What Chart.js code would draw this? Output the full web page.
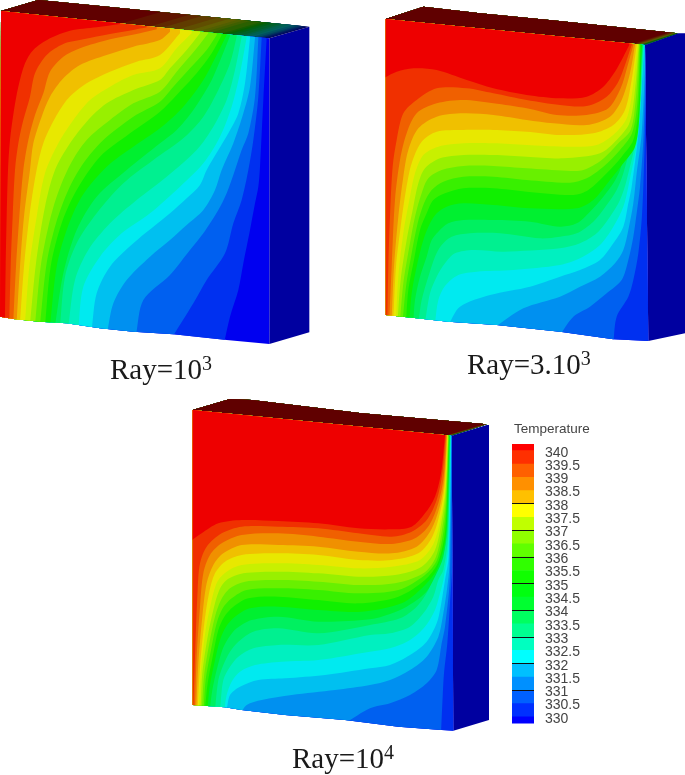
<!DOCTYPE html>
<html><head><meta charset="utf-8">
<style>html,body{margin:0;padding:0;background:#fff;width:685px;height:775px;overflow:hidden}
canvas{position:absolute;display:block;filter:blur(0.4px)}</style>
<script src="https://cdn.jsdelivr.net/npm/chart.js@4"></script></head>
<body>
<canvas id="main" width="685" height="775" style="left:0;top:0"></canvas>
<canvas id="bar" width="90" height="328" style="left:512px;top:415px"></canvas>
<script>
// band colours, coldest to hottest
const faceColors=['#0000f0','#0030f0','#0060f0','#0090f0','#00c0f0','#00eaf0','#00f0c0','#00f090','#00f060','#00f030','#10f000','#38f000','#68f000','#98f000','#c8f000','#e8e800','#f0c000','#f09000','#f06000','#f03000','#ee0000'];
const topColors=['#000060','#001460','#002860','#003c60','#005060','#006060','#006050','#00603c','#006028','#006014','#086000','#166000','#2a6000','#3e6000','#506000','#606000','#604e00','#603c00','#602800','#601400','#600000'];
const sideColor='#0000a0';

// panel 1 (Ray=1e3) outlines, in reference crop units (3 per pixel)
const p1Front=[[3,33],[240,58],[700,105],[808,115],[808,1032],[680,1020],[520,1003],[400,995],[300,985],[200,970],[120,965],[40,957],[0,950]];
const p1Top=[[3,33],[115,0],[300,18],[928,80],[808,115]];
const p1Side=[[808,115],[928,80],[928,997],[808,1032]];
const p1Slant=[112,-33];
// isotherms, coldest first; each starts on the top edge and ends at the left or bottom edge
const p1Iso=[
[[800,115],[790,300],[780,500],[775,560],[765,610],[750,690],[730,790],[715,870],[690,950],[672,1030]],
[[785,115],[775,290],[760,420],[745,510],[725,600],[700,670],[675,760],[620,840],[580,910],[515,1015]],
[[775,115],[765,290],[745,400],[725,450],[705,510],[680,580],[655,630],[610,700],[570,750],[510,825],[430,900],[408,1005]],
[[765,114],[750,260],[730,340],[700,430],[665,510],[645,570],[610,630],[560,675],[510,720],[450,770],[380,840],[340,910],[322,995]],
[[750,113],[735,250],[715,340],[685,400],[620,510],[600,555],[560,595],[510,640],[400,730],[330,800],[290,880],[275,990]],
[[740,112],[720,220],[695,320],[660,410],[610,490],[540,560],[450,640],[365,700],[300,770],[250,860],[235,985]],
[[725,110],[705,210],[680,300],[640,380],[590,450],[500,530],[410,600],[330,670],[265,750],[225,840],[205,980]],
[[710,110],[690,190],[655,270],[610,350],[555,410],[460,480],[370,550],[290,640],[230,730],[195,830],[180,978]],
[[690,108],[665,170],[630,250],[580,330],[530,390],[480,430],[380,510],[290,590],[230,690],[190,820],[165,978]],
[[680,105],[650,165],[610,240],[550,320],[480,385],[400,440],[320,500],[245,590],[200,690],[170,800],[150,978]],
[[665,105],[635,160],[590,220],[530,285],[480,335],[390,400],[300,470],[230,570],[185,670],[152,800],[135,978]],
[[650,105],[620,150],[570,205],[520,260],[480,305],[400,350],[310,420],[250,490],[205,570],[168,670],[140,790],[120,975]],
[[625,100],[590,145],[530,215],[480,275],[400,310],[330,360],[260,420],[210,495],[170,590],[145,680],[122,800],[105,975]],
[[600,100],[560,150],[510,205],[480,240],[400,270],[320,310],[260,365],[210,430],[165,510],[135,620],[108,790],[90,973]],
[[575,100],[530,145],[480,205],[400,225],[330,260],[270,300],[220,360],[175,430],[135,520],[110,650],[88,800],[75,970]],
[[540,100],[480,165],[410,185],[330,215],[260,250],[205,295],[165,355],[130,430],[108,520],[88,650],[72,800],[60,968]],
[[510,95],[480,120],[400,140],[320,165],[240,195],[190,235],[150,290],[125,350],[100,430],[90,510],[72,650],[60,800],[50,965]],
[[470,88],[420,100],[330,118],[240,145],[190,170],[150,215],[130,280],[105,345],[85,420],[70,510],[58,650],[48,800],[40,962]],
[[440,82],[400,90],[330,102],[250,118],[190,132],[140,165],[105,220],[90,290],[70,360],[55,430],[45,510],[38,650],[32,800],[28,960]],
[[360,72],[290,82],[210,92],[150,115],[100,150],[75,190],[55,260],[42,330],[30,420],[24,510],[20,650],[17,800],[15,960]]
];

// panel 2 (Ray=3.1e3)
const p2Front=[[17,57],[795,135],[805,1023],[700,1018],[540,995],[350,975],[205,965],[110,955],[17,945]];
const p2Top=[[17,57],[130,20],[300,40],[530,62],[893,100],[795,135]];
const p2Side=[[795,135],[893,100],[915,100],[915,1000],[805,1023]];
const p2Slant=[112,-36];
const p2Iso=[
[[830,100],[830,1100]],
[[803,137],[795,400],[790,560],[785,660],[775,760],[760,840],[745,890],[710,950],[700,1030]],
[[800,137],[790,420],[780,560],[770,640],[760,710],[745,780],[725,840],[680,880],[630,920],[580,950],[540,1005]],
[[798,137],[785,400],[770,520],[760,610],[745,690],[730,750],[705,790],[660,830],[600,860],[540,890],[430,925],[340,985]],
[[793,135],[775,400],[755,560],[745,610],[730,680],[700,730],[660,780],[600,810],[540,830],[450,860],[330,885],[240,920],[205,975]],
[[792,135],[775,400],[745,560],[730,620],[700,680],[660,735],[600,775],[540,795],[400,810],[290,815],[235,825],[195,858],[175,900],[165,970]],
[[790,135],[775,380],[740,540],[720,600],[690,650],[650,700],[600,730],[540,745],[370,755],[280,750],[225,760],[195,790],[170,830],[150,880],[135,968]],
[[789,135],[770,360],[730,520],[710,570],[680,615],[640,665],[590,700],[540,710],[480,715],[360,700],[270,700],[215,710],[185,735],[165,770],[145,830],[125,900],[115,967]],
[[787,135],[765,350],[720,510],[700,550],[670,590],[630,635],[590,670],[540,680],[450,665],[340,660],[250,660],[205,670],[175,695],[155,720],[140,770],[120,830],[105,900],[100,965]],
[[785,135],[778,350],[765,440],[730,490],[690,540],[640,600],[590,625],[450,625],[340,615],[250,610],[200,620],[170,640],[150,670],[130,720],[110,800],[95,880],[88,964]],
[[782,135],[775,330],[760,420],[725,470],[680,520],[625,570],[580,585],[440,575],[340,565],[250,565],[195,580],[160,600],[140,640],[120,690],[102,780],[85,870],[78,963]],
[[780,135],[772,310],[756,400],[720,450],[670,500],[620,535],[570,548],[440,540],[340,530],[250,530],[190,545],[155,570],[132,610],[113,670],[95,760],[78,860],[68,962]],
[[778,135],[768,290],[752,390],[715,430],[665,480],[610,510],[560,512],[440,505],[340,498],[250,498],[185,510],[145,535],[125,580],[105,650],[88,740],[70,850],[60,962]],
[[776,135],[765,270],[748,370],[710,420],[660,460],[550,475],[440,470],[340,465],[250,465],[180,475],[135,505],[115,550],[98,630],[80,720],[62,840],[53,960]],
[[773,135],[760,250],[742,350],[705,400],[650,435],[550,440],[440,435],[340,430],[250,430],[175,440],[130,465],[105,520],[88,600],[70,700],[55,830],[48,960]],
[[770,135],[755,240],[735,330],[700,375],[640,400],[540,405],[440,395],[340,390],[250,390],[170,395],[125,425],[95,490],[78,570],[62,680],[48,800],[40,960]],
[[765,135],[750,220],[725,300],[690,350],[620,375],[520,370],[440,360],[340,345],[250,340],[170,350],[115,385],[85,450],[70,530],[55,650],[42,800],[35,960]],
[[760,135],[742,200],[722,265],[685,325],[620,345],[530,345],[440,325],[340,310],[250,300],[170,310],[110,340],[80,400],[60,480],[45,600],[35,800],[28,958]],
[[755,135],[735,195],[715,245],[680,290],[620,318],[540,315],[440,300],[340,280],[260,265],[170,265],[110,300],[70,340],[50,420],[38,500],[30,650],[25,800],[22,955]],
[[748,135],[730,170],[705,215],[670,260],[620,290],[540,295],[440,285],[340,265],[260,240],[170,210],[100,205],[50,215],[10,235]]
];

// panel 3 (Ray=1e4)
const p3Front=[[23,60],[800,137],[805,1022],[770,1020],[640,1010],[480,990],[300,975],[170,960],[120,952],[23,945]];
const p3Top=[[23,60],[135,27],[200,30],[350,48],[530,70],[905,103],[800,137]];
const p3Side=[[800,137],[905,105],[912,105],[912,990],[805,1022]];
const p3Slant=[112,-33];
const p3Iso=[
[[830,100],[830,1100]],
[[803,137],[803,500],[795,640],[787,760],[777,850],[773,920],[768,1030]],
[[800,137],[795,560],[780,710],[770,760],[755,840],[725,880],[675,915],[615,940],[555,955],[480,1000]],
[[799,137],[793,530],[787,590],[775,670],[760,740],[725,800],[675,840],[615,870],[555,885],[450,900],[320,915],[230,930],[185,945],[165,972]],
[[798,137],[791,500],[780,570],[767,650],[755,700],[725,755],[675,795],[615,825],[555,835],[420,855],[300,865],[220,870],[165,890],[135,915],[125,961]],
[[797,137],[790,470],[775,570],[765,610],[750,660],[720,710],[675,750],[615,775],[555,785],[400,810],[290,815],[210,825],[165,845],[140,875],[125,915],[118,961]],
[[796,137],[789,440],[775,540],[760,570],[745,620],[715,670],[675,710],[615,730],[555,735],[400,765],[280,765],[205,775],[160,800],[135,830],[115,870],[105,960]],
[[795,137],[788,420],[770,510],[750,540],[730,600],[695,650],[645,685],[555,705],[400,730],[280,715],[205,725],[160,755],[135,785],[115,825],[100,870],[90,960]],
[[794,137],[787,400],[775,500],[750,560],[720,610],[665,650],[615,672],[555,688],[400,695],[280,680],[200,690],[155,715],[130,745],[112,780],[95,840],[82,900],[74,960]],
[[793,137],[786,380],[779,460],[755,540],[715,590],[650,640],[530,665],[400,660],[280,650],[195,655],[150,680],[123,710],[105,750],[88,820],[74,890],[67,959]],
[[792,137],[785,360],[778,440],[758,520],[720,570],[640,620],[520,640],[400,630],[280,620],[190,625],[145,650],[118,680],[100,720],[83,800],[68,880],[60,959]],
[[791,137],[784,340],[776,420],[756,510],[720,555],[640,600],[520,610],[400,600],[280,595],[185,600],[140,625],[113,655],[95,700],[78,780],[62,870],[56,958]],
[[790,137],[783,320],[774,400],[753,500],[715,550],[630,580],[520,585],[400,575],[280,570],[180,575],[135,595],[108,630],[90,680],[73,760],[57,860],[51,958]],
[[789,137],[782,300],[772,380],[750,480],[710,530],[630,555],[520,560],[400,550],[280,545],[175,550],[125,570],[103,600],[85,660],[68,740],[52,850],[47,957]],
[[788,137],[781,290],[770,370],[746,460],[705,510],[620,530],[520,535],[400,525],[280,520],[170,525],[125,545],[97,575],[78,640],[62,720],[48,840],[42,957]],
[[787,137],[780,280],[767,360],[742,440],[700,490],[620,510],[520,510],[400,495],[280,490],[170,495],[120,515],[90,550],[72,610],[58,700],[45,830],[38,956]],
[[786,137],[778,270],[764,350],[738,420],[695,470],[620,490],[520,485],[400,470],[280,465],[170,465],[115,490],[85,525],[65,580],[52,680],[40,820],[34,956]],
[[784,137],[776,260],[760,340],[733,405],[690,445],[620,462],[520,455],[400,440],[280,430],[170,435],[110,460],[75,495],[55,550],[45,650],[35,800],[30,955]],
[[782,137],[772,250],[755,330],[725,390],[680,425],[620,440],[520,430],[400,415],[280,410],[170,410],[110,430],[65,470],[45,520],[38,600],[30,800],[25,955]],
[[780,137],[768,250],[750,320],[720,370],[680,410],[620,418],[520,415],[400,400],[280,393],[170,390],[100,400],[50,430],[15,455]]
];

// colour bar
const barTicks=[340,339.5,339,338.5,338,337.5,337,336.5,336,335.5,335,334.5,334,333.5,333,332.5,332,331.5,331,330.5,330];
const barEdges=[329.75,330,330.5,331,331.5,332,332.5,333,333.5,334,334.5,335,335.5,336,336.5,337,337.5,338,338.5,339,339.5,340,340.25];
const barColors=['#0000ff','#0030ff','#0060ff','#0090ff','#00c0ff','#00ffff','#00ffc0','#00ff90','#00ff60','#00ff30','#00ff10','#10ff00','#30ff00','#60ff00','#90ff00','#c0ff00','#ffff00','#ffc000','#ff9000','#ff6000','#ff3000','#ff0000'];
const barLines=[338,337,336,335,334,333,332,331];

// text
const captionBase=['Ray=10','Ray=3.10','Ray=10'];
const captionPower=['3','3','4'];
const captionAt=[[110,379],[467,374],[292,768]];
const barTitle='Temperature';
const barTitleAt=[514,433];

const panels=[
 {org:[0,0],front:p1Front,top:p1Top,side:p1Side,slant:p1Slant,iso:p1Iso},
 {org:[380,0],front:p2Front,top:p2Top,side:p2Side,slant:p2Slant,iso:p2Iso},
 {org:[185,390],front:p3Front,top:p3Top,side:p3Side,slant:p3Slant,iso:p3Iso}
];

function shape(points,color,clipTo){
  return {data:points.map(p=>({x:p[0],y:p[1]})),showLine:true,fill:'shape',backgroundColor:color,
    borderWidth:0,pointRadius:0,tension:0,clipTo:clipTo||null,clip:false};
}
function panelDatasets(P){
  const m=p=>[P.org[0]+p[0]/3,P.org[1]+p[1]/3];
  const front=P.front.map(m),top=P.top.map(m),out=[];
  const left=P.org[0]-20, up=P.org[1]-20;
  out.push(shape(P.side.map(m),sideColor));
  out.push(shape(top,topColors[0]));
  P.iso.forEach((c,i)=>{
    const a=c[0],s=P.slant;
    const strip=[[a[0]-s[0]*.6,a[1]-s[1]*.6],[a[0]+s[0]*1.3,a[1]+s[1]*1.3],[-200,a[1]-200],[-200,a[1]+200]].map(m);
    out.push(shape(strip,topColors[i+1],top));
  });
  out.push(shape(front,faceColors[0]));
  P.iso.forEach((c,i)=>{
    const pts=c.map(m),n=pts.length,last=pts[n-1],prev=pts[n-2],first=pts[0];
    const ext=[2*last[0]-prev[0],2*last[1]-prev[1]];   // carry the curve straight on past the edge
    const ds=shape(pts.concat([ext,[left,ext[1]+12],[left,up],[first[0],up]]),faceColors[i+1],front);
    ds.tension=0.3;
    out.push(ds);
  });
  return out;
}

const faceClip={
  id:'faceClip',
  beforeDatasetDraw(chart,args){
    const d=chart.data.datasets[args.index];
    if(!d||!d.clipTo) return;
    const c=chart.ctx,X=chart.scales.x,Y=chart.scales.y;
    c.save();c.beginPath();
    d.clipTo.forEach((p,i)=>{const px=X.getPixelForValue(p[0]),py=Y.getPixelForValue(p[1]);i?c.lineTo(px,py):c.moveTo(px,py);});
    c.closePath();c.clip();
  },
  afterDatasetDraw(chart,args){
    const d=chart.data.datasets[args.index];
    if(d&&d.clipTo) chart.ctx.restore();
  }
};
const textLabels={
  id:'textLabels',
  afterDatasetsDraw(chart){
    const c=chart.ctx,X=chart.scales.x,Y=chart.scales.y;
    c.save();c.textBaseline='alphabetic';c.textAlign='left';
    c.fillStyle='#1a1a1a';
    captionBase.forEach((t,i)=>{
      const px=X.getPixelForValue(captionAt[i][0]),py=Y.getPixelForValue(captionAt[i][1]);
      c.font='29px "Liberation Serif"';
      c.fillText(t,px,py);
      const w=c.measureText(t).width;
      c.font='20px "Liberation Serif"';
      c.fillText(captionPower[i],px+w,py-9);
    });
    c.fillStyle='#444';c.font='13.5px "Liberation Sans"';
    c.fillText(barTitle,X.getPixelForValue(barTitleAt[0]),Y.getPixelForValue(barTitleAt[1]));
    c.restore();
  }
};
// the clip must be set before the Filler paints, so Filler is registered after it
const fillerPlugin=Chart.Filler;
Chart.unregister(fillerPlugin);
Chart.register(faceClip,fillerPlugin);

let datasets=[];
panels.forEach(P=>{datasets=datasets.concat(panelDatasets(P));});
datasets.reverse(); // index 0 paints last

new Chart(document.getElementById('main'),{
  type:'scatter',
  data:{datasets},
  plugins:[textLabels],
  options:{responsive:false,animation:false,events:[],
    layout:{padding:0},
    plugins:{legend:{display:false},tooltip:{enabled:false}},
    scales:{x:{type:'linear',min:0,max:685,display:false},y:{type:'linear',min:0,max:775,reverse:true,display:false}}
  }
});

new Chart(document.getElementById('bar'),{
  type:'bar',
  data:{labels:[''],datasets:barColors.map((col,i)=>({data:[[barEdges[i],barEdges[i+1]]],backgroundColor:col,grouped:false,barPercentage:1,categoryPercentage:1}))},
  options:{responsive:false,animation:false,events:[],
    layout:{padding:{top:29,bottom:7}},
    plugins:{legend:{display:false},tooltip:{enabled:false}},
    scales:{
      x:{display:false},
      y:{position:'right',min:329.75,max:340.25,
        afterFit(s){s.width=68;},
        afterBuildTicks(s){s.ticks=barTicks.map(v=>({value:v}));},
        border:{display:false},
        grid:{z:1,drawTicks:false,lineWidth:1,color:c=>barLines.includes(c.tick&&c.tick.value)?'#111':'rgba(0,0,0,0)'},
        ticks:{autoSkip:false,padding:11,labelOffset:2,color:'#444',font:{family:'"Liberation Sans"',size:14},callback:v=>String(v)}
      }
    }
  }
});
</script>
</body></html>
